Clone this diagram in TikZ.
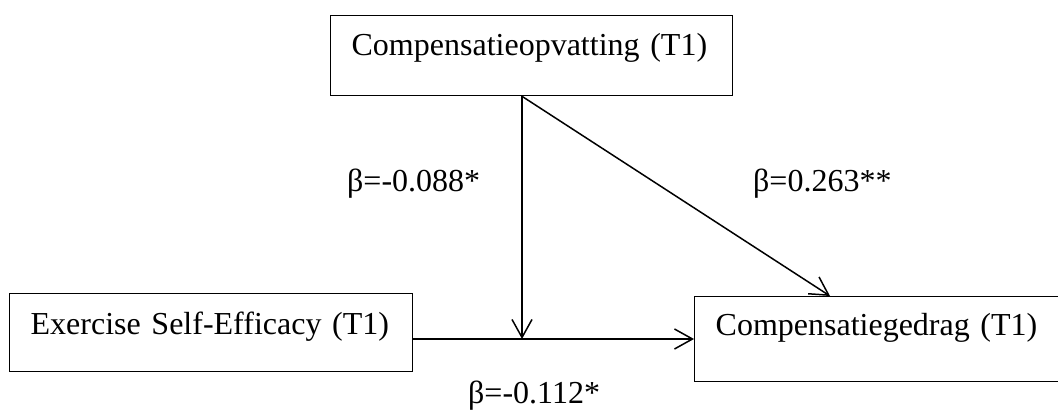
\documentclass[tikz,border=0pt]{standalone}
\usepackage{fontspec}
\setmainfont{Liberation Serif}
\usetikzlibrary{arrows.meta,calc}
\tikzset{
  box/.style={draw=black, line width=1.3pt, inner xsep=21pt, inner ysep=0pt, align=left, anchor=north west, font=\fontsize{32}{38}\selectfont},
  coef/.style={font=\fontsize{32}{38}\selectfont, inner sep=0pt, anchor=base west},
  arrow/.style={-{Straight Barb[length=18pt,width=20pt]}, line width=1.5pt, draw=black}
}

\begin{document}
\begin{tikzpicture}[x=1pt, y=-1pt]
\useasboundingbox (0,0) rectangle (1058,414);
\node[box, text width=360pt, text height=40pt, text depth=40pt] (cop) at (330,15) {Compensatieopvatting (T1)};
\node[box, text width=361pt, text height=41pt, text depth=37pt] (ese) at (9,293) {Exercise Self-Efficacy (T1)};
\node[box, text width=328pt, text height=39pt, text depth=46pt] (cg) at (694,296) {Compensatiegedrag (T1)};
\coordinate (src) at ($(cop.south west)+(192,0)$);
\coordinate (ein) at ($(ese.north east)+(0,46)$);
\coordinate (cgin) at ($(cg.north west)+(0,43)$);
\coordinate (cgtop) at ($(cg.north west)+(136,0)$);
\draw[arrow] (ein) -- (cgin);
\draw[arrow] (src) -- (src |- ein);
\draw[arrow] (src) -- (cgtop);
\node[coef] (b1) at (347,192) {β=-0.088*};
\node[coef] (b2) at (753,192) {β=0.263**};
\node[coef] (b3) at (468,403) {β=-0.112*};
\end{tikzpicture}
\end{document}
